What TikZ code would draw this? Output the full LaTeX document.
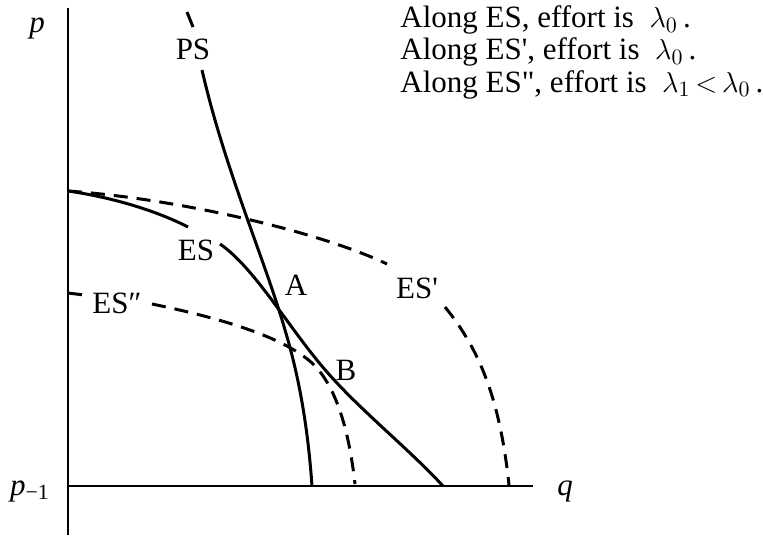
\documentclass[tikz,border=0pt]{standalone}
\usepackage{fontspec}
\setmainfont{Liberation Serif}
\begin{document}
\begin{tikzpicture}[x=0.5pt,y=-0.5pt,font=\fontsize{15.5}{18}\selectfont,
        crv/.style={line width=1.5pt},
        dcrv/.style={line width=1.5pt,dash pattern=on 7pt off 4.5pt},
        lbl/.style={anchor=base,inner sep=0pt}]
        \useasboundingbox (0,0) rectangle (763,535);
        % axes
        \coordinate (top) at (68,8); \coordinate (bot) at (68,535);
        \coordinate (left) at (68,486); \coordinate (right) at (533,486);
        \draw[line width=1pt] (top)--(bot); \draw[line width=1pt] (left)--(right);
        \node[lbl] (p) at (37,33) {\textit{p}};
        \node[lbl] (pm) at (30,495) {\textit{p}\textsubscript{−1}};
        \node[lbl] (q) at (565,495) {\textit{q}};
        % PS
        \draw[crv] (187,12)--(193,27);
        \draw[crv] (202,70) .. controls (225,170) and (265,260) .. (285,330)
            .. controls (300,380) and (308,430) .. (312,486);
        \node[lbl] (ps) at (193,60) {PS};
        % ES
        \draw[crv] (68,191) .. controls (110,197) and (155,210) .. (188,227);
        \draw[crv] (220,244) .. controls (255,268) and (290,330) .. (327,372)
            .. controls (360,410) and (410,450) .. (443,486);
        \node[lbl] (es) at (196,260) {ES};
        % ES'
        \draw[dcrv] (68,191) .. controls (180,199) and (320,232) .. (387,264);
        \draw[dcrv] (445,307) .. controls (480,350) and (500,400) .. (509,485);
        \node[lbl] (esp) at (417,298) {ES\textquotesingle};
        % ES''
        \draw[dcrv] (68,293)--(84,295);
        \draw[dcrv] (152,304) .. controls (220,318) and (290,338) .. (317,368)
            .. controls (340,395) and (350,440) .. (355,484);
        \node[lbl] (espp) at (117,313) {ES″};
        % points
        \node[lbl] (a) at (296,295) {A};
        \node[lbl] (b) at (346,380) {B};
        % legend
        \node[anchor=base west,inner sep=0pt] (l0) at (400,28) {Along ES, effort is \ $\lambda_0$\,.};
        \node[anchor=base west,inner sep=0pt] (l1) at (400,60) {Along ES\textquotesingle, effort is \ $\lambda_0$\,.};
        \node[anchor=base west,inner sep=0pt] (l2) at (400,92) {Along ES\textquotedbl, effort is \ $\lambda_1\mkern-2mu<\mkern-2mu\lambda_0$\,.};
\end{tikzpicture}
\end{document}
